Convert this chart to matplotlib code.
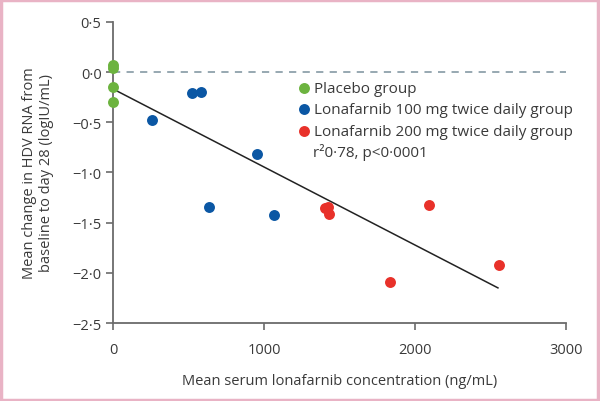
import matplotlib.pyplot as plt
from matplotlib.patches import Rectangle
from matplotlib.ticker import FuncFormatter

plt.rcParams['font.family'] = ['Open Sans', 'DejaVu Sans']

# placebo group
placebo_x = [0, 0, 0, 0]
placebo_y = [0.07, 0.04, -0.15, -0.30]

# lonafarnib 100 mg
lona100_x = [255, 520, 580, 952, 634, 1063]
lona100_y = [-0.48, -0.21, -0.20, -0.82, -1.34, -1.42]

# lonafarnib 200 mg
lona200_x = [1401, 1425, 1428, 2096, 1831, 2560]
lona200_y = [-1.35, -1.34, -1.41, -1.32, -2.09, -1.92]

# regression line ends
fit_x = [0, 2550]
fit_y = [-0.17, -2.15]

green = '#6cb33f'
blue = '#0b57a4'
red = '#e8312a'
txt = '#3a3a3a'

fig = plt.figure(figsize=(6, 4.02), dpi=100)
ax = fig.add_axes([0.189, 0.194, 0.754, 0.749])

ax.axhline(0, color='#8fa1ab', lw=1.3, ls=(0, (4, 3.5)), zorder=1)
ax.plot(fit_x, fit_y, color='#222222', lw=1.1, zorder=2)

ms = 62
ax.scatter(placebo_x, placebo_y, s=ms, color=green, zorder=3, clip_on=False,
           linewidths=0, label='Placebo group')
ax.scatter(lona100_x, lona100_y, s=ms, color=blue, zorder=3, clip_on=False,
           linewidths=0, label='Lonafarnib 100 mg twice daily group')
ax.scatter(lona200_x, lona200_y, s=ms, color=red, zorder=3, clip_on=False,
           linewidths=0, label='Lonafarnib 200 mg twice daily group')

ax.set_xlim(0, 3000)
ax.set_ylim(-2.5, 0.5)
ax.set_xticks([0, 1000, 2000, 3000])
ax.set_yticks([0.5, 0.0, -0.5, -1.0, -1.5, -2.0, -2.5])
ax.yaxis.set_major_formatter(FuncFormatter(
    lambda v, p: ('\u2212' if v < 0 else '') + f'{abs(v):.1f}'.replace('.', '\u00b7')))

for s in ['top', 'right']:
    ax.spines[s].set_visible(False)
for s in ['left', 'bottom']:
    ax.spines[s].set_color('#6b6b6b')
    ax.spines[s].set_linewidth(1.3)
ax.tick_params(colors='#6b6b6b', labelcolor=txt, labelsize=10.5, width=1.2, length=5)
ax.tick_params(axis='x', pad=9)

ax.set_xlabel('Mean serum lonafarnib concentration (ng/mL)', fontsize=10.5,
              color=txt, labelpad=11)
ax.set_ylabel('Mean change in HDV RNA from\nbaseline to day 28 (logIU/mL)',
              fontsize=10.5, color=txt, labelpad=13, linespacing=1.25)

leg = ax.legend(loc='upper left', bbox_to_anchor=(0.39, 0.825), frameon=False,
                handletextpad=0.15, handlelength=1.0, labelspacing=0.42,
                fontsize=11, borderaxespad=0)
for t in leg.get_texts():
    t.set_color(txt)
ax.text(0.4415, 0.571, 'r\u00b20\u00b778, p<0\u00b70001', transform=ax.transAxes,
        fontsize=11, color=txt, va='center')

fig.add_artist(Rectangle((0.002, 0.003), 0.995, 0.994, transform=fig.transFigure,
                         fill=False, edgecolor='#e9b3c5', lw=2.5))

fig.savefig('out.png', dpi=100)
